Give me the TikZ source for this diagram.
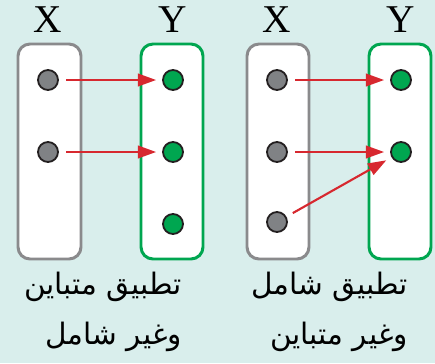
\documentclass[tikz,border=0pt]{standalone}
\usepackage{fontspec}
\setmainfont{Liberation Serif}
\newfontfamily\arabicfont[Script=Arabic]{DejaVu Sans}
\TeXXeTstate=1
\usetikzlibrary{arrows.meta}

\definecolor{bgteal}{RGB}{217,238,236}
\definecolor{boxgray}{RGB}{138,138,140}
\definecolor{setgreen}{RGB}{0,166,80}
\definecolor{dotgray}{RGB}{128,130,133}
\definecolor{dotline}{RGB}{35,31,32}
\definecolor{maparrowred}{RGB}{215,40,47}

\begin{document}
\begin{tikzpicture}[x=0.025cm, y=-0.025cm,
    xset/.style={draw=boxgray, line width=2.1pt, rounded corners=0.3cm, fill=white},
    yset/.style={draw=setgreen, line width=2.1pt, rounded corners=0.3cm, fill=white},
    xdot/.style={circle, draw=dotline, line width=1.3pt, fill=dotgray, minimum size=0.5cm, inner sep=0pt},
    ydot/.style={circle, draw=dotline, line width=1.3pt, fill=setgreen, minimum size=0.5cm, inner sep=0pt},
    setname/.style={font=\fontsize{28}{30}\selectfont, inner sep=0pt},
    caption/.style={font=\fontsize{21}{25}\selectfont\arabicfont, inner sep=0pt, anchor=east},
    maparrow/.style={draw=maparrowred, line width=1.5pt, -{Triangle[length=13pt,width=9pt]},
      shorten <=0.18cm, shorten >=0.15cm}]

        \fill[bgteal] (0, 0) rectangle (435, 363);
        \useasboundingbox (0, 0) rectangle (435, 363);

        % first mapping
        \node[setname] (xa) at (48, 20) {X};
        \node[setname] (ya) at (173, 20) {Y};
        \draw[xset] (18, 44) rectangle (81, 259);
        \draw[yset] (141, 44) rectangle (203, 259);

        \node[xdot] (xa1) at (48, 80) {};
        \node[xdot] (xa2) at (48, 152) {};
        \node[ydot] (ya1) at (173, 80) {};
        \node[ydot] (ya2) at (173, 152) {};
        \node[ydot] (ya3) at (173, 224) {};

        \draw[maparrow] (xa1) -- (ya1);
        \draw[maparrow] (xa2) -- (ya2);

        \node[caption] (capa1) at (182, 287) {\beginR تطبيق متباين\endR};
        \node[caption] (capa2) at (182, 337) {\beginR وغير شامل\endR};

        % second mapping
        \node[setname] (xb) at (277, 20) {X};
        \node[setname] (yb) at (401, 20) {Y};
        \draw[xset] (247, 44) rectangle (309, 259);
        \draw[yset] (369, 44) rectangle (431, 259);

        \node[xdot] (xb1) at (277, 80) {};
        \node[xdot] (xb2) at (277, 152) {};
        \node[xdot] (xb3) at (277, 222) {};
        \node[ydot] (yb1) at (401, 80) {};
        \node[ydot] (yb2) at (401, 152) {};

        \draw[maparrow] (xb1) -- (yb1);
        \draw[maparrow] (xb2) -- (yb2);
        \draw[maparrow] (xb3) -- (yb2);

        \node[caption] (capb1) at (408, 287) {\beginR تطبيق شامل\endR};
        \node[caption] (capb2) at (408, 337) {\beginR وغير متباين\endR};

      \end{tikzpicture}
\end{document}
